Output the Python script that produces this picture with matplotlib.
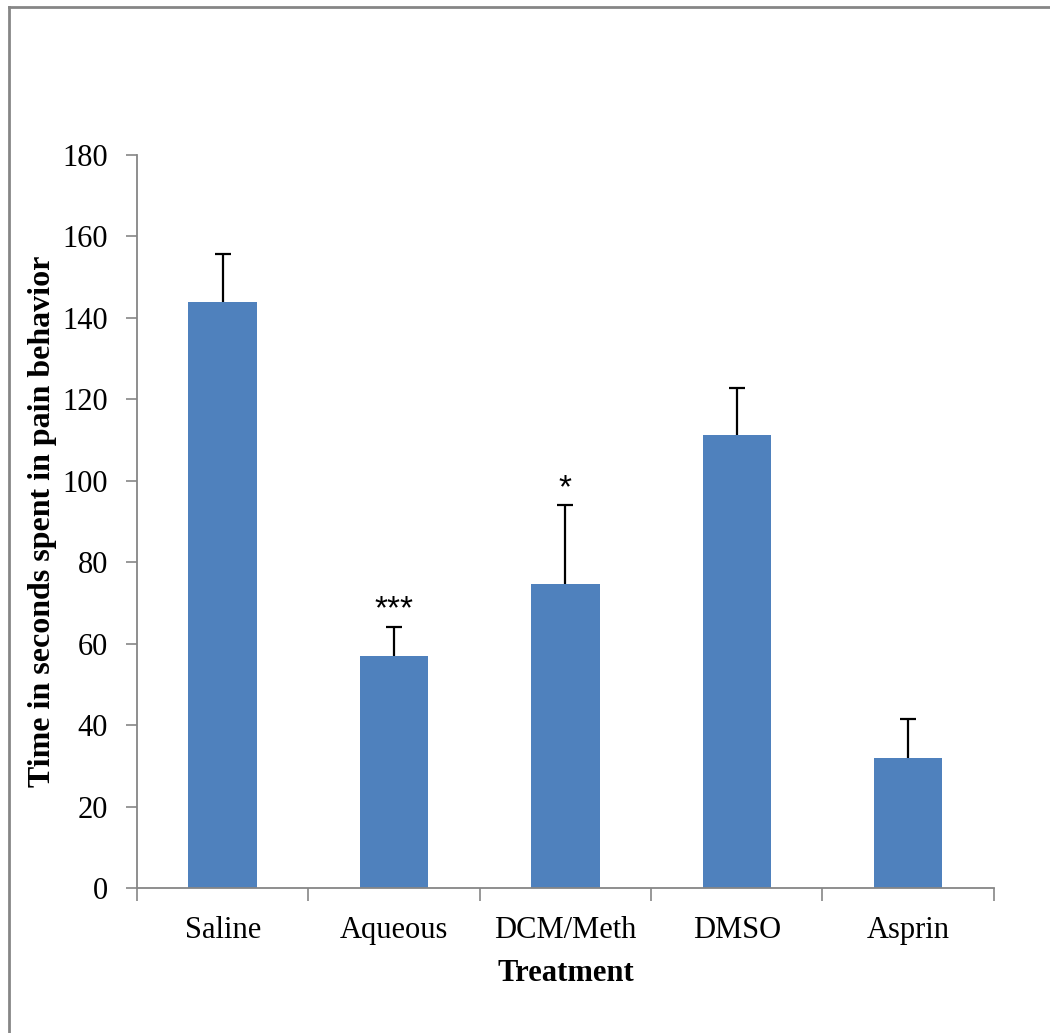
import numpy as np
import matplotlib
matplotlib.use("Agg")
import matplotlib.pyplot as plt
from matplotlib.lines import Line2D

# data
treatments = ["Saline", "Aqueous", "DCM/Meth", "DMSO", "Asprin"]
means = [144.0, 57.0, 74.6, 111.2, 31.8]
sem = [11.8, 7.2, 19.4, 11.6, 9.8]
stars = ["", "***", "*", "", ""]

plt.rcParams["font.family"] = ["Liberation Serif", "DejaVu Serif"]

fig = plt.figure(figsize=(10.5, 10.33), dpi=100)
ax = fig.add_axes([0.1305, 0.1404, 0.816, 0.7096])

axis_grey = "#868686"
x = np.arange(len(treatments))
ax.bar(x, means, width=0.4, color="#4F81BD", zorder=2)
eb = ax.errorbar(x, means, yerr=[np.zeros(len(sem)), sem], fmt="none",
                 ecolor="black", elinewidth=1.6, capsize=6, capthick=1.6, zorder=3)
# only the upper cap, as in the original
eb[1][0].set_visible(False)

for xi, m, e, s in zip(x, means, sem, stars):
    if s:
        ax.annotate(s, (xi, m + e), xytext=(0, 1), textcoords="offset points",
                    ha="center", va="bottom", fontsize=24,
                    family=["Liberation Sans", "DejaVu Sans"])

ax.set_xlim(-0.5, len(treatments) - 0.5)
ax.set_ylim(0, 180)
ax.set_yticks(np.arange(0, 181, 20))
ax.set_xticks(x)
ax.set_xticklabels(treatments)
ax.set_xticks(np.arange(-0.5, len(treatments)), minor=True)
ax.tick_params(axis="x", which="major", length=0, labelsize=22, pad=20)
ax.tick_params(axis="x", which="minor", length=9, width=1.2, color=axis_grey, direction="out")
ax.tick_params(axis="y", length=8, width=1.2, color=axis_grey, labelsize=22, pad=13)

for side in ["top", "right"]:
    ax.spines[side].set_visible(False)
for side in ["left", "bottom"]:
    ax.spines[side].set_color(axis_grey)
    ax.spines[side].set_linewidth(1.3)

ax.set_xlabel("Treatment", fontsize=22, fontweight="bold", labelpad=10)
ax.set_ylabel("Time in seconds spent in pain behavior", fontsize=23,
              fontweight="bold", labelpad=4)

# outer frame (left and top edges only visible)
fig.add_artist(Line2D([9 / 1050, 9 / 1050], [0, 1 - 7 / 1033], transform=fig.transFigure,
                      color=axis_grey, linewidth=2))
fig.add_artist(Line2D([9 / 1050, 1], [1 - 7 / 1033, 1 - 7 / 1033], transform=fig.transFigure,
                      color=axis_grey, linewidth=2))

fig.savefig("out.png", dpi=100)
